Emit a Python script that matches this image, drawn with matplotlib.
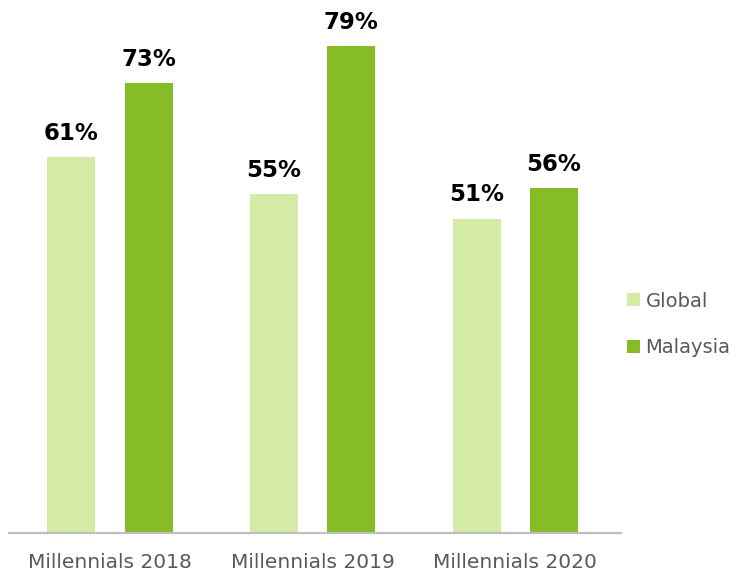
import numpy as np
import matplotlib.pyplot as plt

categories = ["Millennials 2018", "Millennials 2019", "Millennials 2020"]
global_vals = [61, 55, 51]
malaysia_vals = [73, 79, 56]
series_names = ["Global", "Malaysia"]

light_green = "#d4eba5"
dark_green = "#86bc25"
text_gray = "#595959"

fig = plt.figure(figsize=(7.38, 5.74), dpi=100)
ax = fig.add_axes([0.012, 0.0714, 0.829, 85 * 6.16 / 574])

x = np.arange(len(categories))
width = 0.237
offset = 0.191

bars_g = ax.bar(x - offset, global_vals, width, color=light_green, label=series_names[0])
bars_m = ax.bar(x + offset, malaysia_vals, width, color=dark_green, label=series_names[1])

for bars in (bars_g, bars_m):
    for b in bars:
        ax.annotate("{}%".format(int(b.get_height())),
                    (b.get_x() + b.get_width() / 2, b.get_height()),
                    xytext=(0, 12.5), textcoords="offset points",
                    ha="center", va="baseline", fontsize=16.5, fontweight="bold",
                    color="black")

ax.set_xlim(-0.5, 2.52)
ax.set_ylim(0, 85)
ax.set_xticks(x)
ax.set_xticklabels(categories, fontsize=14.5, color=text_gray)
ax.tick_params(axis="x", length=0, pad=14.5)
ax.set_yticks([])
for side in ("top", "right", "left"):
    ax.spines[side].set_visible(False)
ax.spines["bottom"].set_color("#bfbfbf")
ax.spines["bottom"].set_linewidth(1.6)

leg = fig.legend(loc="center left", bbox_to_anchor=(0.826, 0.435), frameon=False,
                 fontsize=14, labelcolor=text_gray, handlelength=0.65, handleheight=0.65,
                 handletextpad=0.3, labelspacing=1.4)

fig.savefig("out.png", dpi=100)
